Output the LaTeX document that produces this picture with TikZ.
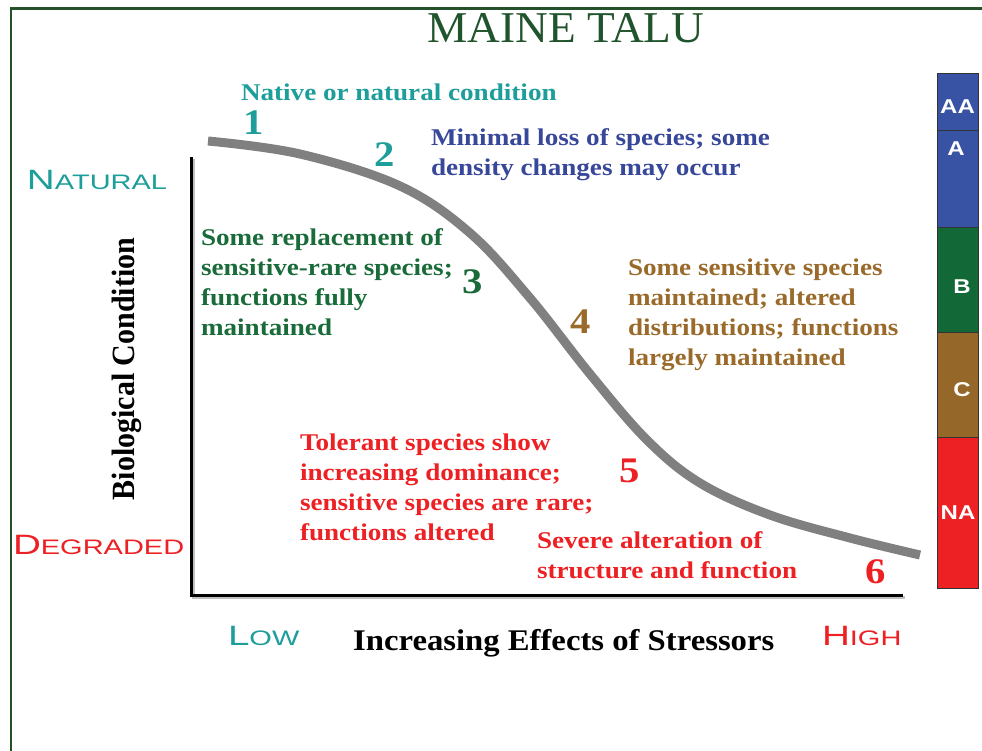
\documentclass[tikz,border=0pt]{standalone}
\usepackage{fontspec}
\setmainfont{Liberation Serif}
\newfontfamily\sansf{Liberation Sans}
\definecolor{frameG}{RGB}{35,82,42}
\definecolor{titleG}{RGB}{32,84,44}
\definecolor{tealT}{RGB}{30,158,154}
\definecolor{blueT}{RGB}{55,71,154}
\definecolor{greenT}{RGB}{26,107,58}
\definecolor{brownT}{RGB}{154,106,42}
\definecolor{redT}{RGB}{237,32,36}
\definecolor{barBlue}{RGB}{57,83,164}
\definecolor{barGreen}{RGB}{19,104,56}
\definecolor{barBrown}{RGB}{149,103,41}
\definecolor{barRed}{RGB}{237,32,36}
\definecolor{curveG}{RGB}{128,128,128}
\newcommand\sxt[2]{\scalebox{#1}[1]{\begin{tabular}[t]{@{}l@{}}#2\end{tabular}}}
\newcommand\fsc[2]{\scalebox{1.38}[1]{{\fontsize{28}{28}\selectfont #1}{\fontsize{21}{21}\selectfont #2}}}
\begin{document}
\begin{tikzpicture}[x=1pt,y=-1pt,
  txt/.style={anchor=base west, inner sep=0pt, outer sep=0pt, font=\fontsize{24}{30}\selectfont\bfseries},
  num/.style={anchor=base west, inner sep=0pt, outer sep=0pt, font=\fontsize{36}{36}\selectfont\bfseries},
  scl/.style={anchor=base west, inner sep=0pt, outer sep=0pt, font=\sansf},
  barlbl/.style={anchor=base, inner sep=0pt, outer sep=0pt, text=white, font=\sansf\fontsize{20}{20}\selectfont\bfseries},
  barseg/.style={draw=black!80, line width=0.8pt}]
\useasboundingbox (0,0) rectangle (982,751);
\fill[white] (0,0) rectangle (982,751);
% frame
\draw[frameG, line width=2.5pt] (11,751) -- (11,8.5) -- (982,8.5);
% title
\node[anchor=base west, inner sep=0pt, text=titleG, font=\fontsize{44}{44}\selectfont] (title) at (427,43) {\scalebox{1.03}[1]{MAINE TALU}};
% axes
\draw[black!25, line width=3pt] (193.5,159) -- (193.5,597.5) -- (905,597.5);
\draw[black, line width=3pt] (191.5,157) -- (191.5,595.5) -- (903,595.5);
% curve
\draw[curveG, line width=9pt] plot[smooth, tension=0.6] coordinates {(208,141) (300,154) (400,186) (470,233) (530,298) (590,374) (647,440) (700,483) (770,515) (850,538) (920,555)};
% axis labels
\node[scl, text=tealT] (natural) at (27,190) {\fsc{N}{ATURAL}};
\node[scl, text=redT] (degraded) at (13,554) {\fsc{D}{EGRADED}};
\node[scl, text=tealT] (low) at (228,645) {\fsc{L}{OW}};
\node[scl, text=redT] (high) at (822,645) {\fsc{H}{IGH}};
\node[inner sep=0pt, rotate=90, font=\fontsize{30}{30}\selectfont\bfseries] (ylab) at (127,369) {\scalebox{1}[1.08]{Biological Condition}};
\node[anchor=base west, inner sep=0pt, font=\fontsize{30}{30}\selectfont\bfseries] (xlab) at (353,650) {\scalebox{1.09}[1]{Increasing Effects of Stressors}};
% numbers
\node[num, text=tealT] (n1) at (243,135) {\scalebox{1.13}[1]{1}};
\node[num, text=tealT] (n2) at (374,167) {\scalebox{1.13}[1]{2}};
\node[num, text=greenT] (n3) at (462,293) {\scalebox{1.13}[1]{3}};
\node[num, text=brownT] (n4) at (570,333) {\scalebox{1.13}[1]{4}};
\node[num, text=redT] (n5) at (619,482) {\scalebox{1.13}[1]{5}};
\node[num, text=redT] (n6) at (865,583) {\scalebox{1.13}[1]{6}};
% descriptions
\node[txt, text=tealT] (d1) at (241,101) {\sxt{1.13}{Native or natural condition}};
\node[txt, text=blueT] (d2) at (431,146) {\sxt{1.13}{Minimal loss of species; some\\density changes may occur}};
\node[txt, text=greenT] (d3) at (201,246) {\sxt{1.13}{Some replacement of\\sensitive-rare species;\\functions fully\\maintained}};
\node[txt, text=brownT] (d4) at (628,276) {\sxt{1.13}{Some sensitive species\\maintained; altered\\distributions; functions\\largely maintained}};
\node[txt, text=redT] (d5) at (300,450) {\sxt{1.13}{Tolerant species show\\increasing dominance;\\sensitive species are rare;\\functions altered}};
\node[txt, text=redT] (d6) at (537,548) {\sxt{1.13}{Severe alteration of\\structure and function}};
% colour bar
\filldraw[barseg, fill=barBlue] (937,73) rectangle (978,130);
\filldraw[barseg, fill=barBlue] (937,130) rectangle (978,227);
\filldraw[barseg, fill=barGreen] (937,227) rectangle (978,332);
\filldraw[barseg, fill=barBrown] (937,332) rectangle (978,437);
\filldraw[barseg, fill=barRed] (937,437) rectangle (978,588);
\node[barlbl] (bAA) at (957.5,114) {\scalebox{1.2}[1]{AA}};
\node[barlbl] (bA) at (956,156) {\scalebox{1.2}[1]{A}};
\node[barlbl] (bB) at (962,293) {\scalebox{1.2}[1]{B}};
\node[barlbl] (bC) at (962,396) {\scalebox{1.2}[1]{C}};
\node[barlbl] (bNA) at (958,519) {\scalebox{1.2}[1]{NA}};
\end{tikzpicture}
\end{document}
